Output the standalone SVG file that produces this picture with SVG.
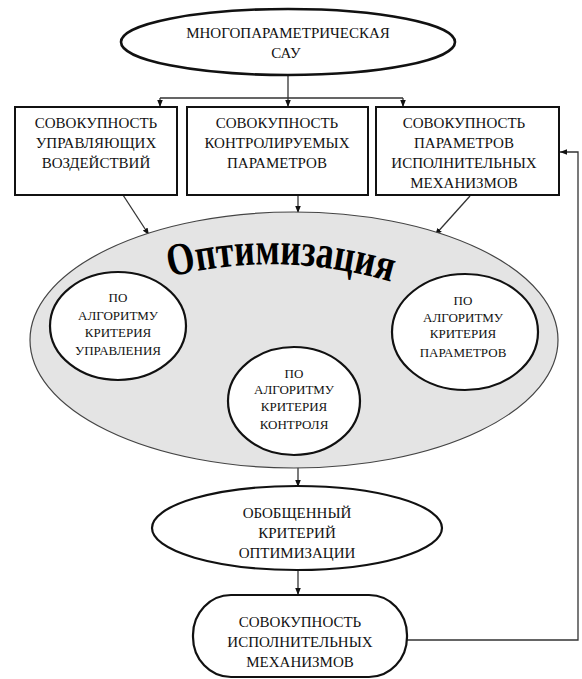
<svg xmlns="http://www.w3.org/2000/svg" width="582" height="679" viewBox="0 0 582 679">
<defs>
<marker id="ah" viewBox="0 0 10 10" refX="10" refY="5" markerWidth="7" markerHeight="7" markerUnits="userSpaceOnUse" orient="auto">
<path d="M0,1 L10,5 L0,9 Z" fill="#111"/>
</marker>
<path id="arc" d="M 170 277 Q 282 249 395 283" fill="none"/>
</defs>
<rect width="582" height="679" fill="#fff"/>

<g id="connectors" fill="none" stroke="#333" stroke-width="1.3">
<path d="M288,75 V98 M160,98 H403"/>
<path d="M160,98 V107" marker-end="url(#ah)"/>
<path d="M288,98 V107" marker-end="url(#ah)"/>
<path d="M403,98 V107" marker-end="url(#ah)"/>
<path d="M123,195 L149,235" marker-end="url(#ah)"/>
<path d="M298,195 V213" marker-end="url(#ah)"/>
<path d="M470,196 L435,235" marker-end="url(#ah)"/>
<path d="M298,467 V487" marker-end="url(#ah)"/>
<path d="M298,570 V595" marker-end="url(#ah)"/>
<path d="M407,640 H578 V152 H560" marker-end="url(#ah)"/>
</g>

<g id="top" font-family="Liberation Serif, serif" font-size="15" text-anchor="middle" fill="#111">
<ellipse cx="288" cy="42" rx="167" ry="33" fill="#fff" stroke="#111" stroke-width="2.6"/>
<text x="288" y="38">МНОГОПАРАМЕТРИЧЕСКАЯ</text>
<text x="286" y="58">САУ</text>
</g>

<g id="box1" font-family="Liberation Serif, serif" font-size="15" text-anchor="middle" fill="#111">
<rect x="15" y="107" width="162" height="88" fill="#fff" stroke="#111" stroke-width="2"/>
<text x="96" y="128">СОВОКУПНОСТЬ</text>
<text x="96" y="148">УПРАВЛЯЮЩИХ</text>
<text x="96" y="168">ВОЗДЕЙСТВИЙ</text>
</g>

<g id="box2" font-family="Liberation Serif, serif" font-size="15" text-anchor="middle" fill="#111">
<rect x="187" y="107" width="181" height="88" fill="#fff" stroke="#111" stroke-width="2"/>
<text x="277" y="128">СОВОКУПНОСТЬ</text>
<text x="277" y="148">КОНТРОЛИРУЕМЫХ</text>
<text x="277" y="168">ПАРАМЕТРОВ</text>
</g>

<g id="box3" font-family="Liberation Serif, serif" font-size="15" text-anchor="middle" fill="#111">
<rect x="376" y="107" width="183" height="88" fill="#fff" stroke="#111" stroke-width="2"/>
<text x="464" y="128">СОВОКУПНОСТЬ</text>
<text x="464" y="148">ПАРАМЕТРОВ</text>
<text x="464" y="168">ИСПОЛНИТЕЛЬНЫХ</text>
<text x="464" y="188">МЕХАНИЗМОВ</text>
</g>

<g id="optimization">
<ellipse cx="294" cy="340" rx="264" ry="128" fill="#e4e4e4" stroke="#444" stroke-width="1.2"/>
<text font-family="Liberation Serif, serif" font-weight="bold" font-size="46" fill="#000"><textPath href="#arc" textLength="224" lengthAdjust="spacingAndGlyphs">Оптимизация</textPath></text>
</g>

<g id="alg1" font-family="Liberation Serif, serif" font-size="13" text-anchor="middle" fill="#111">
<ellipse cx="118" cy="326" rx="68" ry="54" fill="#fff" stroke="#111" stroke-width="2.2"/>
<text x="118" y="302">ПО</text>
<text x="118" y="320">АЛГОРИТМУ</text>
<text x="118" y="337">КРИТЕРИЯ</text>
<text x="118" y="355">УПРАВЛЕНИЯ</text>
</g>

<g id="alg2" font-family="Liberation Serif, serif" font-size="13" text-anchor="middle" fill="#111">
<ellipse cx="294" cy="401" rx="66" ry="54" fill="#fff" stroke="#111" stroke-width="2.2"/>
<text x="294" y="378">ПО</text>
<text x="294" y="394">АЛГОРИТМУ</text>
<text x="294" y="411">КРИТЕРИЯ</text>
<text x="294" y="429">КОНТРОЛЯ</text>
</g>

<g id="alg3" font-family="Liberation Serif, serif" font-size="13" text-anchor="middle" fill="#111">
<ellipse cx="465" cy="332" rx="73" ry="58" fill="#fff" stroke="#111" stroke-width="2.2"/>
<text x="463" y="305">ПО</text>
<text x="463" y="322">АЛГОРИТМУ</text>
<text x="463" y="338">КРИТЕРИЯ</text>
<text x="463" y="357">ПАРАМЕТРОВ</text>
</g>

<g id="criterion" font-family="Liberation Serif, serif" font-size="15" text-anchor="middle" fill="#111">
<ellipse cx="297" cy="528" rx="145" ry="42" fill="#fff" stroke="#111" stroke-width="2.2"/>
<text x="297" y="518">ОБОБЩЕННЫЙ</text>
<text x="297" y="538">КРИТЕРИЙ</text>
<text x="297" y="558">ОПТИМИЗАЦИИ</text>
</g>

<g id="actuators" font-family="Liberation Serif, serif" font-size="15" text-anchor="middle" fill="#111">
<rect x="193" y="595" width="214" height="82" rx="38" ry="40" fill="#fff" stroke="#111" stroke-width="2.2"/>
<text x="300" y="627">СОВОКУПНОСТЬ</text>
<text x="300" y="647">ИСПОЛНИТЕЛЬНЫХ</text>
<text x="300" y="667">МЕХАНИЗМОВ</text>
</g>
</svg>
